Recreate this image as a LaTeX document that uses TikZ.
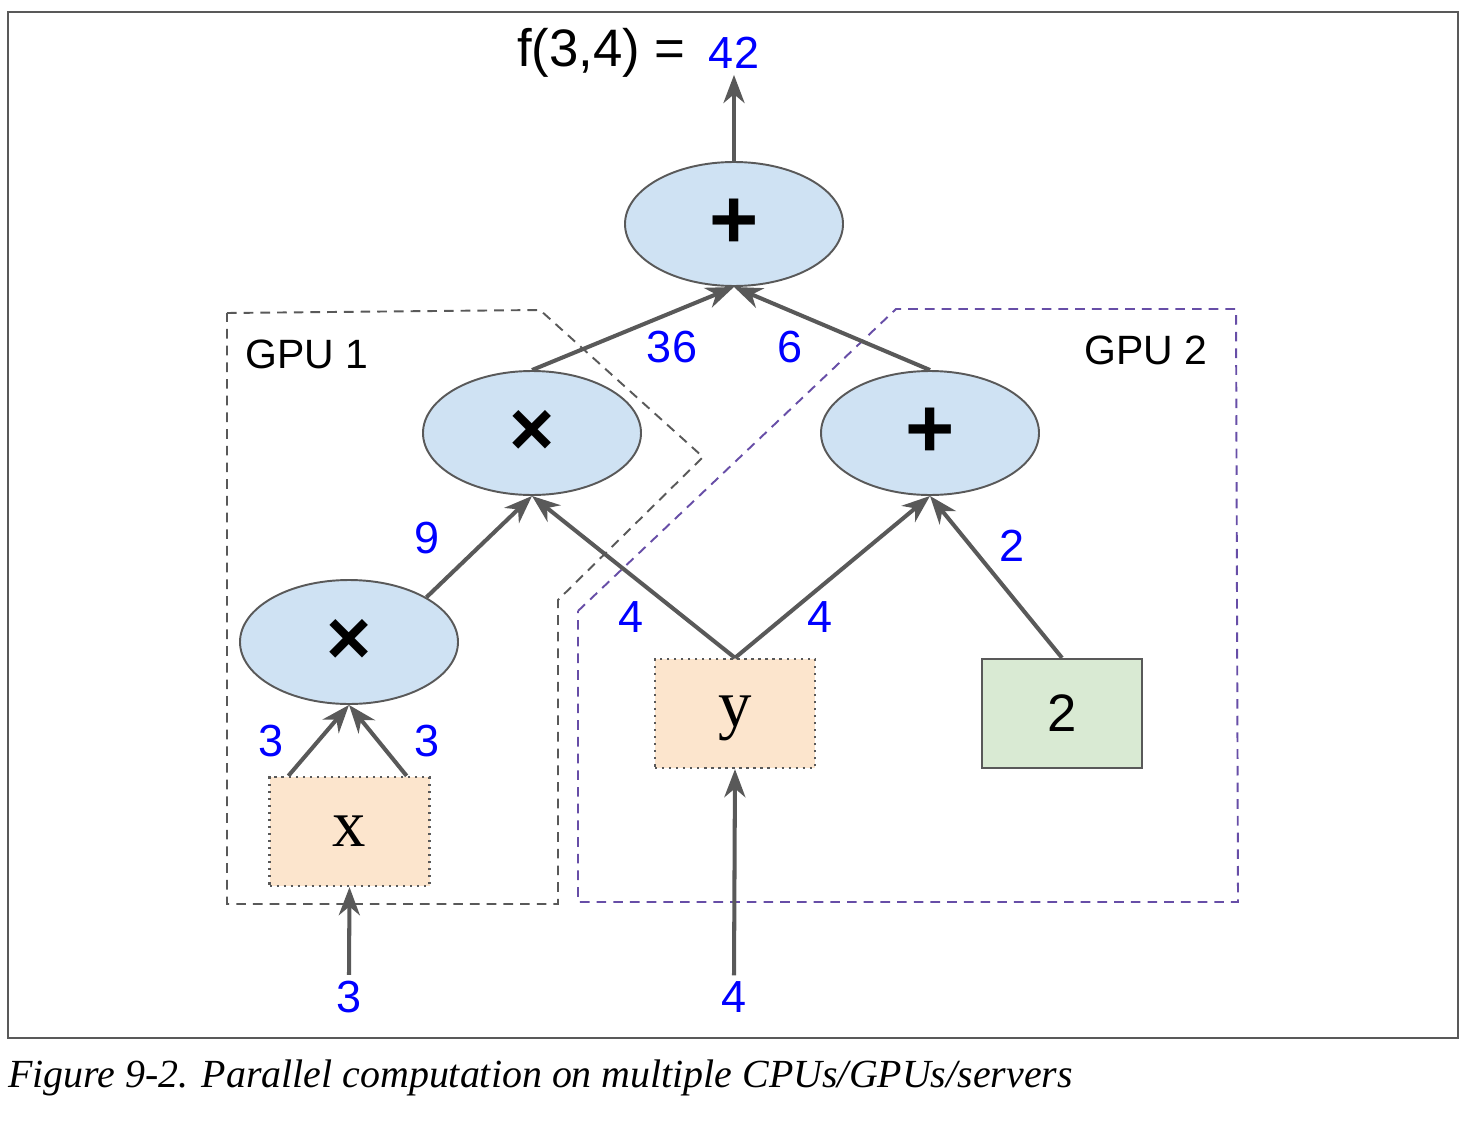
\documentclass[tikz,border=0pt]{standalone}
\usepackage{fontspec}
\setmainfont{Liberation Sans}
\newfontfamily\serifface{Liberation Serif}
\usetikzlibrary{arrows.meta,shapes.geometric,positioning}
\definecolor{opblue}{HTML}{CFE2F3}
\definecolor{varorange}{HTML}{FCE5CD}
\definecolor{constgreen}{HTML}{D9EAD3}
\definecolor{edgegray}{HTML}{595959}
\definecolor{gpupurple}{HTML}{674EA7}
\definecolor{valblue}{HTML}{0000FF}

\begin{document}
\begin{tikzpicture}[
  op/.style={ellipse, draw=edgegray, line width=1.1pt, fill=opblue, minimum width=4.36cm, minimum height=2.48cm, inner sep=0pt, font=\fontsize{48}{50}\selectfont\bfseries},
  var/.style={rectangle, draw=edgegray, line width=1.3pt, dash pattern=on 1.3pt off 2.7pt, fill=varorange, minimum width=3.2cm, minimum height=2.18cm, font=\fontsize{38}{42}\selectfont\serifface},
  val/.style={text=valblue, font=\fontsize{25.6}{28}\selectfont},
  flow/.style={draw=edgegray, line width=2.3pt, -{Stealth[length=16pt, width=12pt, inset=5pt]}},
  gpubox/.style={line width=1.1pt, dash pattern=on 5.5pt off 4pt},
]
\useasboundingbox (0,0) rectangle (29.48,-22.52);
\draw [edgegray, line width=0.8pt] (0.16,-0.24) rectangle (29.16,-20.76);

% device regions
\draw [gpubox, edgegray] (4.54,-6.26) -- (10.8,-6.2) -- (14.06,-9.14) -- (11.16,-12.0) -- (11.16,-18.08) -- (4.54,-18.08) -- cycle;
\draw [gpubox, gpupurple] (11.56,-12.22) -- (17.92,-6.18) -- (24.72,-6.18) -- (24.76,-18.04) -- (11.56,-18.04) -- cycle;
\node [font=\fontsize{23.3}{26}\selectfont] (gpu1) at (6.14,-7.08) {GPU 1};
\node [font=\fontsize{23.3}{26}\selectfont] (gpu2) at (22.92,-7.0) {GPU 2};

% operations and inputs
\node [op] (top) at (14.68,-4.48) {+};
\node [op, font=\fontsize{44}{48}\selectfont\bfseries] (ml) at (10.64,-8.66) {×};
\node [op] (mr) at (18.6,-8.66) {+};
\node [op, font=\fontsize{44}{48}\selectfont\bfseries] (bl) at (6.98,-12.84) {×};
\node [var] (xin) at (6.99,-16.63) {x};
\node [var, text depth=0.1cm] (yin) at (14.7,-14.27) {y};
\node [draw=edgegray, line width=1.3pt, fill=constgreen, minimum width=3.2cm, minimum height=2.18cm, font=\fontsize{30}{34}\selectfont] (two) at (21.24,-14.27) {2};

% values
\node [val] (out) at (14.68,-1.06) {42};
\node [left=0.22cm of out, font=\fontsize{30}{32}\selectfont] (fout) {f(3,4) =};
\node [val] (in3) at (6.98,-19.94) {3};
\node [val] (in4) at (14.68,-19.94) {4};
\node [val] (vxa) at (5.42,-14.82) {3};
\node [val] (vxb) at (8.54,-14.82) {3};
\node [val] (vsq) at (8.54,-10.76) {9};
\node [val] (vya) at (12.62,-12.34) {4};
\node [val] (vyb) at (16.4,-12.34) {4};
\node [val] (vtwo) at (20.24,-10.92) {2};
\node [val] (vml) at (13.44,-6.94) {36};
\node [val] (vmr) at (15.8,-6.94) {6};

% data flow
\draw [flow] ([xshift=0.4cm]xin.north west) -- (bl.south);
\draw [flow] ([xshift=-0.48cm]xin.north east) -- (bl.south);
\draw [flow] (bl.30) -- (ml.south);
\draw [flow] (yin.north) -- (ml.south);
\draw [flow] (yin.north) -- (mr.south);
\draw [flow] (two.north) -- (mr.south);
\draw [flow] (ml.north) -- (top.south);
\draw [flow] (mr.north) -- (top.south);
\draw [flow] (top.north) -- (out.south);
\draw [flow] (in3.north) -- (xin.south);
\draw [flow] (in4.north) -- (yin.south);

\node [anchor=base west, inner sep=0pt, font=\fontsize{22.7}{26}\selectfont\serifface\itshape] (caption) at (0.16,-21.74) {Figure 9-2. Parallel computation on multiple CPUs/GPUs/servers};
\end{tikzpicture}
\end{document}
